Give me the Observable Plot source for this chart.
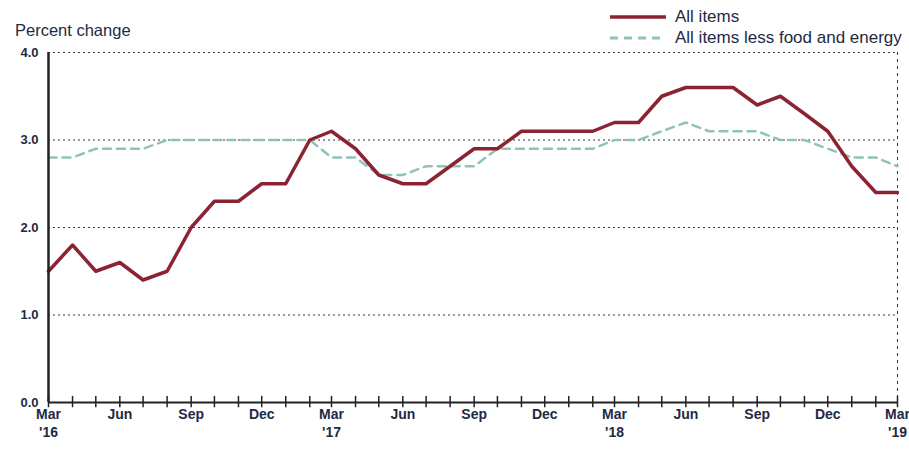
<!DOCTYPE html>
<html>
<head>
<meta charset="utf-8">
<script src="https://cdn.jsdelivr.net/npm/d3@7"></script>
<script src="https://cdn.jsdelivr.net/npm/@observablehq/plot@0.6"></script>
<style>
  html, body { margin: 0; padding: 0; background: #fff; }
  #wrap { position: relative; width: 909px; height: 454px; font-family: "Liberation Sans", Arial, sans-serif; }
  .ov { position: absolute; font-size: 17px; color: #1f2a44; white-space: nowrap; }
</style>
</head>
<body>
<div id="wrap">
  <div class="ov" style="left:15px; top:21px; font-size:16.5px;">Percent change</div>
  <svg class="ov" style="left:608px; top:8px;" width="62" height="40">
    <line x1="2" y1="9" x2="58" y2="9" stroke="#8b2332" stroke-width="3.5"></line>
    <line x1="2" y1="30" x2="58" y2="30" stroke="#8fc3b8" stroke-width="3" stroke-dasharray="8,6"></line>
  </svg>
  <div class="ov" style="left:675px; top:7px;">All items</div>
  <div class="ov" style="left:675px; top:28px;">All items less food and energy</div>
  <div id="chart"></div>
</div>
<script>
// Month index 0 = Mar 2016 ... 36 = Mar 2019
const startMonth = new Date(Date.UTC(2016, 2, 1));
const months = d3.utcMonth.range(startMonth, new Date(Date.UTC(2019, 3, 1)));

const allItems = [1.5, 1.8, 1.5, 1.6, 1.4, 1.5, 2.0, 2.3, 2.3, 2.5, 2.5, 3.0,
                  3.1, 2.9, 2.6, 2.5, 2.5, 2.7, 2.9, 2.9, 3.1, 3.1, 3.1, 3.1,
                  3.2, 3.2, 3.5, 3.6, 3.6, 3.6, 3.4, 3.5, 3.3, 3.1, 2.7, 2.4, 2.4];
const coreItems = [2.8, 2.8, 2.9, 2.9, 2.9, 3.0, 3.0, 3.0, 3.0, 3.0, 3.0, 3.0,
                   2.8, 2.8, 2.6, 2.6, 2.7, 2.7, 2.7, 2.9, 2.9, 2.9, 2.9, 2.9,
                   3.0, 3.0, 3.1, 3.2, 3.1, 3.1, 3.1, 3.0, 3.0, 2.9, 2.8, 2.8, 2.7];
const yTicks = [0, 1, 2, 3, 4];
const gridValues = [1, 2, 3, 4];
const monthNames = ["Jan","Feb","Mar","Apr","May","Jun","Jul","Aug","Sep","Oct","Nov","Dec"];

const all = months.map((d, i) => ({date: d, value: allItems[i]}));
const core = months.map((d, i) => ({date: d, value: coreItems[i]}));
const labelMonths = months.filter(d => d.getUTCMonth() % 3 === 2);
const yearMonths = months.filter(d => d.getUTCMonth() === 2);
const endMonth = months[months.length - 1];

const chart = Plot.plot({
  width: 909,
  height: 454,
  marginLeft: 48,
  marginRight: 12,
  marginTop: 52,
  marginBottom: 52,
  style: {fontFamily: "Liberation Sans, Arial, sans-serif", fontSize: "13px", color: "#1f2a44", background: "transparent"},
  x: {type: "utc", domain: [startMonth, endMonth]},
  y: {domain: [0, 4]},
  marks: [
    Plot.ruleY(gridValues, {stroke: "#222", strokeWidth: 0.9, strokeDasharray: "2,3"}),
    Plot.ruleX([endMonth], {stroke: "#333", strokeWidth: 1, strokeDasharray: "3,4"}),
    Plot.lineY(core, {x: "date", y: "value", stroke: "#8fc3b8", strokeWidth: 2.5, strokeDasharray: "8,6"}),
    Plot.lineY(all, {x: "date", y: "value", stroke: "#8b2332", strokeWidth: 3.5, strokeLinejoin: "round"}),
    Plot.ruleX(months, {y1: -0.06, y2: 0.07, stroke: "#222", strokeWidth: 1.5}),
    Plot.ruleY([0], {stroke: "#222", strokeWidth: 2}),
    Plot.ruleX([startMonth], {stroke: "#222", strokeWidth: 2.5}),
    Plot.axisY({ticks: yTicks, tickFormat: d => d.toFixed(1), tickSize: 0, tickPadding: 10, fontSize: 13, fontWeight: "bold", label: null}),
    Plot.axisX({ticks: labelMonths, tickSize: 0, tickPadding: 7, fontSize: 14, fontWeight: "bold", label: null,
      tickFormat: d => monthNames[d.getUTCMonth()]}),
    Plot.axisX({ticks: yearMonths, tickSize: 0, tickPadding: 25, fontSize: 14, fontWeight: "bold", label: null,
      tickFormat: d => "'" + String(d.getUTCFullYear()).slice(2)})
  ]
});
document.getElementById("chart").appendChild(chart);
</script>
</body>
</html>
